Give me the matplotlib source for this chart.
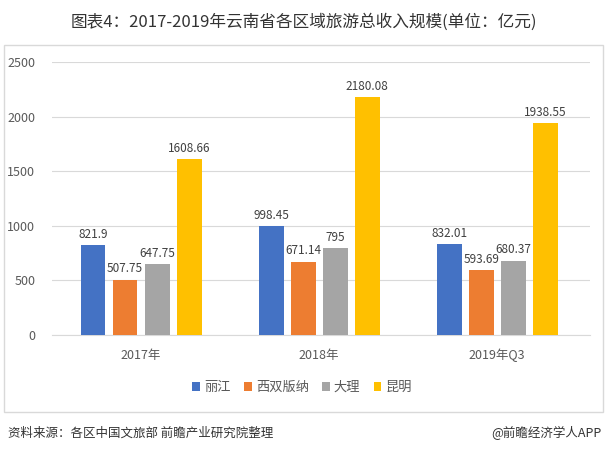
import numpy as np
import matplotlib.pyplot as plt
from matplotlib.patches import Rectangle

plt.rcParams['font.family'] = ['Noto Sans CJK SC', 'DejaVu Sans']

years = ["2017年", "2018年", "2019年Q3"]
regions = ["丽江", "西双版纳", "大理", "昆明"]
values = {
    "丽江": [821.9, 998.45, 832.01],
    "西双版纳": [507.75, 671.14, 593.69],
    "大理": [647.75, 795, 680.37],
    "昆明": [1608.66, 2180.08, 1938.55],
}
colors = ["#4472C4", "#ED7D31", "#A5A5A5", "#FFC000"]

fig = plt.figure(figsize=(6.07, 4.53), dpi=100)
ax = fig.add_axes([0.0857, 0.2605, 0.886, 0.6025])

# outer chart frame
fig.patches.append(Rectangle((4 / 607, 1 - 412 / 453), 599 / 607, 367 / 453,
                             transform=fig.transFigure, fill=False,
                             edgecolor="#D9D9D9", linewidth=1))

x = np.arange(len(years))
w = 0.14
step = 0.18
for i, (name, c) in enumerate(zip(regions, colors)):
    pos = x + (i - 1.5) * step
    bars = ax.bar(pos, values[name], width=w, color=c, label=name, zorder=3)
    for b, v in zip(bars, values[name]):
        ax.text(b.get_x() + b.get_width() / 2, v + 40, f"{v:g}",
                ha="center", va="bottom", fontsize=8.5, color="#404040")

ax.set_xlim(-0.5, 2.52)
ax.set_ylim(0, 2500)
ax.set_yticks(range(0, 2501, 500))
ax.set_xticks(x)
ax.set_xticklabels(years)
ax.tick_params(axis="both", length=0, labelsize=9, colors="#595959")
ax.tick_params(axis="y", pad=12)
ax.tick_params(axis="x", pad=10)
ax.grid(axis="y", color="#D9D9D9", linewidth=0.8, zorder=0)
for s in ["top", "right", "left"]:
    ax.spines[s].set_visible(False)
ax.spines["bottom"].set_color("#D9D9D9")

ax.legend(loc="upper center", bbox_to_anchor=(0.465, -0.125), ncol=4,
          frameon=False, fontsize=9.5, handlelength=0.6, handleheight=0.6,
          handletextpad=0.3, columnspacing=1.0, labelcolor="#595959")

fig.text(0.5, 1 - 22 / 453, "图表4：2017-2019年云南省各区域旅游总收入规模(单位：亿元)",
         ha="center", va="center", fontsize=12, color="#333333")
fig.text(8 / 607, 1 - 433 / 453, "资料来源：各区中国文旅部 前瞻产业研究院整理",
         ha="left", va="center", fontsize=9, color="#333333")
fig.text(601 / 607, 1 - 433 / 453, "@前瞻经济学人APP",
         ha="right", va="center", fontsize=9, color="#333333")

fig.savefig("out.png", dpi=100)
